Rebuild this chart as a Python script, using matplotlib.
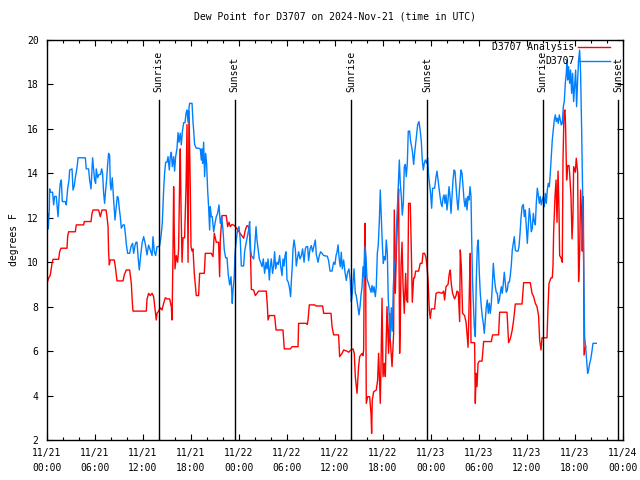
import matplotlib
matplotlib.use("Agg")
import matplotlib.pyplot as plt
import matplotlib.transforms as mtransforms

# hours since 2024-11-21 00:00 UTC, dew point (F)
analysis_pts = [
    (0.0, 9.05), (0.2, 9.28), (0.41, 9.42), (0.63, 9.95), (0.75, 10.13), (1.45, 10.13), (1.58, 10.47),
    (1.75, 10.63), (2.5, 10.63), (2.58, 11.15), (2.7, 11.37), (3.54, 11.37), (3.66, 11.68), (4.58, 11.68),
    (4.66, 11.83), (5.5, 11.83), (5.63, 12.2), (5.75, 12.35), (6.45, 12.35), (6.66, 12.05), (6.88, 12.35),
    (7.38, 12.35), (7.5, 12.05), (7.63, 11.6), (7.7, 10.47), (7.79, 9.88), (7.91, 10.1), (8.41, 10.1),
    (8.54, 9.8), (8.75, 9.16), (9.5, 9.16), (9.66, 9.43), (9.91, 9.65), (10.33, 9.65), (10.54, 9.05),
    (10.66, 8.22), (10.75, 7.8), (12.41, 7.8), (12.5, 8.33), (12.7, 8.6), (12.91, 8.5), (13.13, 8.6),
    (13.33, 8.45), (13.41, 8.2), (13.66, 7.4), (13.75, 7.7), (13.95, 7.8), (14.16, 7.95), (14.38, 7.85),
    (14.58, 8.15), (14.79, 8.4), (15.0, 8.35), (15.33, 8.35), (15.54, 8.0), (15.63, 7.4), (15.75, 10.4),
    (15.83, 13.4), (15.91, 11.3), (16.0, 9.7), (16.16, 10.3), (16.33, 10.0), (16.45, 10.6), (16.58, 13.7),
    (16.66, 15.1), (16.75, 12.5), (16.88, 10.0), (17.0, 11.1), (17.2, 11.1), (17.38, 13.4), (17.5, 16.2),
    (17.63, 10.0), (17.75, 16.8), (17.83, 15.0), (17.91, 13.4), (18.0, 10.7), (18.13, 10.5), (18.25, 10.6),
    (18.41, 9.5), (18.66, 8.5), (18.95, 8.5), (19.08, 9.5), (19.66, 9.5), (19.79, 10.4), (20.54, 10.4),
    (20.75, 10.25), (20.91, 11.3), (21.16, 10.9), (21.45, 10.9), (21.58, 9.35), (21.66, 11.0), (21.88, 12.1),
    (22.41, 12.1), (22.58, 11.6), (22.75, 11.8), (22.91, 11.6), (23.13, 11.7), (23.45, 11.65), (23.75, 11.5),
    (24.16, 11.3), (24.58, 11.08), (24.79, 11.45), (25.0, 11.65), (25.2, 11.6), (25.33, 11.15), (25.45, 10.25),
    (25.54, 8.78), (25.83, 8.75), (26.04, 8.5), (26.45, 8.7), (27.41, 8.7), (27.54, 8.08), (27.63, 7.4),
    (27.79, 7.6), (28.45, 7.6), (28.54, 7.25), (28.63, 6.95), (29.5, 6.95), (29.58, 6.5), (29.66, 6.1),
    (30.41, 6.1), (30.63, 6.2), (31.38, 6.2), (31.45, 7.25), (32.41, 7.25), (32.54, 7.2), (32.63, 7.4),
    (32.79, 8.08), (33.45, 8.08), (33.63, 8.03), (34.45, 8.03), (34.58, 7.7), (35.5, 7.7), (35.63, 7.1),
    (35.83, 6.73), (36.45, 6.73), (36.58, 5.75), (36.88, 5.9), (37.08, 6.05), (37.5, 6.0), (37.7, 5.95),
    (38.0, 6.05), (38.25, 6.1), (38.41, 5.9), (38.54, 4.85), (38.75, 4.1), (38.95, 5.3), (39.08, 5.75),
    (39.38, 5.9), (39.5, 5.8), (39.58, 6.05), (39.66, 9.8), (39.75, 11.75), (39.83, 9.8), (39.91, 3.65),
    (40.08, 3.95), (40.33, 3.95), (40.5, 3.2), (40.58, 2.3), (40.66, 3.8), (40.83, 4.17), (41.16, 4.25),
    (41.33, 4.7), (41.45, 5.9), (41.66, 3.65), (41.75, 5.3), (41.88, 8.38), (42.0, 4.85), (42.16, 5.45),
    (42.29, 4.85), (42.5, 8.0), (42.7, 5.9), (42.83, 7.7), (42.91, 6.5), (43.13, 5.3), (43.33, 6.8),
    (43.41, 12.35), (43.54, 8.6), (43.66, 10.25), (43.83, 12.2), (43.95, 13.3), (44.08, 5.9), (44.16, 7.1),
    (44.25, 9.8), (44.38, 10.9), (44.5, 9.0), (44.66, 7.7), (44.83, 9.5), (44.95, 8.3), (45.08, 8.2),
    (45.2, 12.65), (45.41, 12.65), (45.54, 10.55), (45.66, 8.2), (45.83, 9.3), (45.95, 9.3), (46.08, 9.6),
    (46.45, 9.6), (46.66, 9.95), (46.88, 9.95), (47.0, 10.4), (47.2, 10.4), (47.38, 10.2), (47.5, 9.8),
    (47.63, 9.2), (47.79, 7.85), (47.91, 7.47), (48.04, 7.9), (48.45, 7.9), (48.63, 8.6), (48.95, 8.65),
    (49.38, 8.6), (49.58, 8.7), (49.7, 8.3), (49.88, 8.9), (50.13, 9.0), (50.29, 9.5), (50.41, 9.65),
    (50.54, 9.0), (50.7, 8.6), (50.95, 8.35), (51.13, 8.5), (51.25, 8.7), (51.41, 8.65), (51.5, 8.0),
    (51.58, 7.33), (51.66, 10.55), (51.79, 9.8), (51.95, 7.7), (52.2, 7.6), (52.38, 7.3), (52.5, 6.8),
    (52.63, 6.17), (52.7, 7.1), (52.83, 9.3), (52.91, 10.4), (53.0, 6.38), (53.45, 6.38), (53.54, 3.65),
    (53.63, 5.0), (53.75, 4.4), (53.88, 5.45), (54.04, 5.55), (54.38, 5.55), (54.58, 6.43), (55.54, 6.43),
    (55.7, 6.73), (56.45, 6.73), (56.58, 7.75), (57.5, 7.75), (57.7, 6.38), (57.91, 6.55), (58.13, 6.9),
    (58.33, 7.4), (58.54, 8.12), (59.38, 8.12), (59.58, 9.08), (60.41, 9.08), (60.63, 8.6), (60.83, 8.45),
    (61.04, 8.15), (61.25, 8.0), (61.45, 7.58), (61.58, 6.5), (61.75, 6.05), (61.88, 6.6), (62.5, 6.6),
    (62.63, 8.0), (62.75, 9.05), (63.0, 9.3), (63.16, 9.3), (63.25, 9.85), (63.33, 11.37), (63.5, 12.95),
    (63.63, 13.7), (63.75, 11.8), (63.88, 14.1), (64.0, 12.35), (64.08, 10.3), (64.25, 10.2), (64.41, 10.0),
    (64.5, 14.6), (64.63, 16.78), (64.75, 16.85), (64.83, 15.98), (64.95, 13.7), (65.08, 14.35), (65.25, 14.35),
    (65.33, 14.0), (65.5, 12.95), (65.63, 11.05), (65.75, 12.1), (65.83, 14.3), (66.04, 14.05), (66.16, 14.68),
    (66.33, 14.05), (66.45, 9.13), (66.58, 10.4), (66.7, 13.25), (66.83, 12.2), (66.91, 10.5), (67.04, 12.95),
    (67.13, 5.82), (67.33, 6.2),
]

station_pts = [
    (0.0, 11.83), (0.08, 12.2), (0.16, 11.5), (0.29, 12.4), (0.33, 13.3), (0.45, 13.15), (0.7, 13.15),
    (0.83, 12.58), (0.95, 12.96), (1.16, 12.96), (1.25, 12.58), (1.38, 12.05), (1.45, 12.5), (1.58, 13.25),
    (1.66, 13.55), (1.79, 13.7), (1.91, 12.73), (2.29, 12.73), (2.41, 12.58), (2.58, 13.3), (2.75, 13.7),
    (2.83, 14.15), (3.13, 14.2), (3.25, 13.25), (3.41, 13.45), (3.54, 13.8), (3.75, 14.25), (3.88, 14.7),
    (4.79, 14.7), (4.91, 14.2), (5.2, 14.2), (5.33, 13.7), (5.5, 13.3), (5.63, 14.2), (5.7, 14.7),
    (5.83, 14.2), (5.95, 13.7), (6.08, 13.55), (6.16, 14.2), (6.33, 13.8), (6.5, 13.95), (6.7, 13.95),
    (6.83, 14.2), (6.95, 14.0), (7.08, 13.1), (7.2, 12.65), (7.33, 13.25), (7.45, 13.7), (7.58, 14.4),
    (7.7, 14.9), (7.83, 14.8), (7.91, 13.55), (8.0, 13.25), (8.16, 13.8), (8.33, 12.8), (8.5, 11.9),
    (8.63, 12.4), (8.79, 12.96), (8.91, 12.9), (9.04, 12.4), (9.16, 12.05), (9.29, 11.53), (9.5, 11.68),
    (9.66, 11.68), (9.79, 11.3), (9.91, 10.82), (10.08, 10.4), (10.33, 10.4), (10.5, 10.7), (10.7, 10.85),
    (10.83, 10.4), (11.0, 10.75), (11.13, 10.9), (11.25, 10.9), (11.41, 10.13), (11.54, 9.65), (11.66, 10.13),
    (11.88, 10.85), (12.08, 11.15), (12.29, 10.82), (12.5, 10.33), (12.7, 10.77), (12.91, 10.55), (13.13, 10.3),
    (13.25, 11.15), (13.41, 10.47), (13.58, 10.3), (13.75, 10.7), (13.95, 10.7), (14.08, 10.75), (14.25, 11.15),
    (14.41, 11.75), (14.58, 13.25), (14.7, 14.0), (14.83, 14.5), (15.0, 14.5), (15.13, 14.75), (15.29, 14.15),
    (15.41, 14.75), (15.54, 14.95), (15.66, 14.3), (15.83, 14.75), (15.95, 14.1), (16.08, 14.75), (16.25, 15.13),
    (16.38, 15.83), (16.5, 15.4), (16.66, 15.8), (16.79, 15.28), (16.91, 15.85), (17.08, 16.28), (17.25, 16.28),
    (17.38, 16.7), (17.5, 16.85), (17.63, 16.3), (17.75, 16.93), (17.83, 17.15), (18.13, 17.15), (18.25, 16.3),
    (18.33, 15.95), (18.45, 15.3), (18.66, 15.13), (18.95, 15.13), (19.16, 15.1), (19.29, 14.6), (19.38, 15.1),
    (19.45, 14.45), (19.58, 15.4), (19.7, 13.85), (19.83, 14.9), (19.95, 14.45), (20.08, 13.25), (20.2, 12.5),
    (20.33, 11.45), (20.41, 12.5), (20.54, 12.05), (20.66, 12.05), (20.83, 11.37), (21.0, 11.75), (21.16, 12.05),
    (21.33, 12.2), (21.5, 12.58), (21.66, 11.75), (21.83, 12.05), (22.0, 11.45), (22.16, 10.55), (22.33, 10.2),
    (22.5, 10.2), (22.66, 9.43), (22.83, 8.98), (23.0, 9.35), (23.16, 8.15), (23.25, 8.75), (23.41, 9.35),
    (23.5, 10.4), (23.66, 11.0), (23.83, 11.48), (24.0, 11.6), (24.16, 11.0), (24.29, 9.83), (24.58, 9.83),
    (24.7, 10.47), (24.88, 10.85), (25.04, 11.15), (25.2, 11.45), (25.33, 11.83), (25.45, 10.6), (25.54, 10.3),
    (25.83, 10.15), (25.95, 10.6), (26.13, 11.6), (26.25, 11.0), (26.38, 10.6), (26.54, 10.15), (26.7, 10.0),
    (26.88, 9.8), (27.04, 10.15), (27.2, 9.5), (27.38, 10.0), (27.5, 9.7), (27.63, 10.15), (27.79, 9.2),
    (27.91, 9.8), (28.04, 10.15), (28.2, 9.5), (28.33, 9.83), (28.45, 10.47), (28.58, 9.7), (28.75, 10.0),
    (28.91, 9.9), (29.08, 10.3), (29.2, 9.83), (29.38, 9.4), (29.5, 10.15), (29.63, 9.83), (29.75, 10.3),
    (29.88, 10.47), (30.0, 9.2), (30.13, 9.13), (30.29, 8.9), (30.45, 8.45), (30.54, 9.13), (30.66, 9.83),
    (30.75, 10.6), (30.88, 11.0), (31.04, 10.6), (31.16, 9.83), (31.29, 10.15), (31.45, 10.47), (31.63, 10.15),
    (31.79, 10.3), (31.95, 10.6), (32.13, 10.0), (32.29, 10.6), (32.41, 10.7), (32.58, 10.7), (32.7, 10.07),
    (32.88, 10.6), (33.04, 10.75), (33.2, 10.47), (33.38, 10.75), (33.54, 11.0), (33.66, 10.35), (33.88, 10.0),
    (34.04, 10.3), (34.2, 10.47), (34.38, 10.4), (34.58, 10.3), (35.04, 10.27), (35.2, 10.07), (35.38, 9.6),
    (35.63, 9.6), (35.83, 10.0), (36.0, 9.9), (36.13, 10.3), (36.25, 10.45), (36.38, 10.78), (36.54, 10.1),
    (36.66, 9.8), (36.79, 10.45), (36.91, 9.7), (37.08, 10.1), (37.25, 9.55), (37.41, 9.18), (37.58, 9.55),
    (37.75, 9.7), (37.91, 9.18), (38.04, 8.22), (38.16, 8.6), (38.25, 9.05), (38.38, 9.7), (38.54, 8.6),
    (38.66, 8.5), (38.83, 8.05), (39.0, 7.63), (39.13, 8.0), (39.25, 8.5), (39.38, 8.9), (39.5, 9.8),
    (39.63, 9.35), (39.75, 10.7), (39.88, 10.2), (40.0, 9.25), (40.13, 9.1), (40.38, 8.8), (40.5, 8.65),
    (40.63, 8.95), (40.75, 8.65), (40.88, 8.9), (41.04, 8.45), (41.16, 8.9), (41.29, 10.4), (41.41, 10.78),
    (41.54, 11.83), (41.66, 13.25), (41.79, 12.05), (41.91, 10.85), (42.04, 9.95), (42.16, 10.25), (42.29, 10.1),
    (42.41, 11.0), (42.54, 10.4), (42.66, 8.3), (42.79, 7.55), (42.91, 6.58), (43.04, 7.95), (43.16, 6.9),
    (43.29, 8.9), (43.41, 9.8), (43.54, 10.1), (43.66, 11.3), (43.79, 12.35), (43.91, 13.4), (44.04, 14.6),
    (44.16, 13.55), (44.29, 12.96), (44.41, 12.12), (44.54, 12.65), (44.66, 14.3), (44.79, 14.4), (44.91, 13.85),
    (45.04, 14.45), (45.16, 15.9), (45.33, 15.9), (45.45, 15.43), (45.58, 15.2), (45.7, 14.9), (45.83, 14.4),
    (45.95, 14.9), (46.08, 15.35), (46.2, 15.8), (46.33, 16.18), (46.5, 16.33), (46.66, 15.9), (46.79, 15.43),
    (46.91, 14.6), (47.04, 14.15), (47.16, 14.45), (47.29, 14.6), (47.45, 14.45), (47.58, 14.7), (47.7, 13.9),
    (47.83, 13.48), (47.95, 13.1), (48.08, 12.43), (48.2, 13.33), (48.45, 13.33), (48.63, 13.85), (48.75, 14.1),
    (48.88, 13.7), (49.0, 13.33), (49.13, 12.96), (49.25, 12.65), (49.38, 12.5), (49.5, 12.88), (49.63, 13.03),
    (49.75, 12.65), (49.88, 13.03), (50.0, 12.35), (50.13, 12.8), (50.25, 13.4), (50.38, 12.96), (50.5, 12.2),
    (50.63, 12.96), (50.75, 13.7), (50.88, 14.15), (51.0, 14.1), (51.13, 13.4), (51.25, 12.8), (51.38, 12.35),
    (51.5, 12.96), (51.63, 13.63), (51.75, 14.15), (51.88, 14.0), (52.0, 13.4), (52.13, 12.8), (52.25, 12.5),
    (52.38, 12.88), (52.5, 12.35), (52.63, 12.96), (52.75, 12.8), (52.88, 13.4), (53.0, 12.96), (53.08, 11.15),
    (53.2, 9.05), (53.33, 7.85), (53.41, 7.1), (53.54, 6.65), (53.66, 9.2), (53.79, 10.7), (53.91, 11.0),
    (54.04, 9.5), (54.16, 8.6), (54.29, 8.0), (54.41, 7.55), (54.54, 7.25), (54.66, 6.8), (54.79, 7.4),
    (54.91, 8.0), (55.04, 8.3), (55.16, 7.7), (55.29, 8.15), (55.41, 7.7), (55.54, 8.15), (55.66, 8.9),
    (55.79, 9.95), (55.91, 9.35), (56.04, 8.9), (56.16, 8.65), (56.29, 8.6), (56.41, 8.15), (56.54, 8.3),
    (56.66, 8.6), (56.79, 8.9), (56.91, 8.6), (57.04, 9.05), (57.16, 9.55), (57.29, 9.05), (57.41, 8.65),
    (57.54, 8.75), (57.66, 9.1), (57.79, 9.1), (57.91, 9.4), (58.04, 9.87), (58.16, 10.55), (58.29, 10.85),
    (58.41, 11.15), (58.54, 10.55), (58.66, 10.5), (58.88, 10.5), (59.0, 10.7), (59.13, 11.3), (59.25, 11.98),
    (59.38, 12.5), (59.54, 12.6), (59.66, 12.05), (59.79, 12.35), (59.91, 11.6), (60.04, 10.85), (60.16, 11.6),
    (60.29, 12.42), (60.41, 12.05), (60.54, 11.37), (60.66, 11.53), (60.79, 12.2), (60.91, 11.83), (61.04, 11.68),
    (61.16, 12.65), (61.29, 13.33), (61.41, 13.03), (61.54, 12.65), (61.66, 12.96), (61.79, 12.58), (61.91, 12.8),
    (62.04, 12.96), (62.16, 12.5), (62.29, 13.1), (62.41, 12.65), (62.54, 13.25), (62.66, 13.55), (62.79, 13.4),
    (62.91, 14.0), (63.04, 14.75), (63.16, 15.5), (63.29, 15.95), (63.41, 16.4), (63.54, 16.63), (63.66, 16.33),
    (63.79, 16.48), (63.91, 16.25), (64.04, 16.63), (64.16, 16.4), (64.29, 16.18), (64.41, 16.25), (64.54, 17.0),
    (64.66, 17.23), (64.79, 18.05), (64.91, 18.5), (65.0, 19.1), (65.08, 18.2), (65.2, 18.8), (65.33, 18.05),
    (65.45, 18.65), (65.58, 17.6), (65.7, 18.5), (65.83, 17.23), (65.95, 17.9), (66.08, 18.65), (66.2, 17.0),
    (66.33, 18.2), (66.45, 19.1), (66.58, 19.55), (66.7, 18.5), (66.83, 15.95), (66.95, 13.25), (67.08, 10.25),
    (67.2, 6.65), (67.33, 6.2), (67.45, 5.6), (67.58, 5.0), (67.7, 5.15), (67.83, 5.45), (67.95, 5.6),
    (68.08, 5.9), (68.25, 6.35), (68.66, 6.35),
]

sunrise_hours = [13.95, 38.0, 61.95]
sunset_hours = [23.45, 47.5, 71.4]

tick_hours = list(range(0, 73, 6))
tick_labels = ["11/21\n00:00", "11/21\n06:00", "11/21\n12:00", "11/21\n18:00",
               "11/22\n00:00", "11/22\n06:00", "11/22\n12:00", "11/22\n18:00",
               "11/23\n00:00", "11/23\n06:00", "11/23\n12:00", "11/23\n18:00",
               "11/24\n00:00"]

analysis_hours, analysis_dewpt = zip(*analysis_pts)
station_hours, station_dewpt = zip(*station_pts)

plt.rcParams['font.family'] = 'DejaVu Sans Mono'
plt.rcParams['font.size'] = 7

fig = plt.figure(figsize=(6.4, 4.8), dpi=100)
ax = fig.add_axes([47 / 640, 40 / 480, 576 / 640, 400 / 480])

ax.plot(analysis_hours, analysis_dewpt, color='#ff0000', lw=1.0, label='D3707 Analysis')
ax.plot(station_hours, station_dewpt, color='#0080ff', lw=1.0, label='D3707')

trans = mtransforms.blended_transform_factory(ax.transData, ax.transAxes)
for h in sunrise_hours:
    ax.axvline(h, ymin=0, ymax=0.85, color='black', lw=1.0)
    ax.text(h, 0.87, 'Sunrise', transform=trans, rotation=90, ha='center', va='bottom')
for h in sunset_hours:
    ax.axvline(h, ymin=0, ymax=0.85, color='black', lw=1.0)
    ax.text(h, 0.87, 'Sunset', transform=trans, rotation=90, ha='center', va='bottom')

ax.set_xlim(0, 72)
ax.set_ylim(2, 20)
ax.set_xticks(tick_hours)
ax.set_xticklabels(tick_labels, linespacing=1.6)
ax.set_xticks(range(0, 73, 2), minor=True)
ax.set_yticks(range(2, 21, 2))
ax.tick_params(which='both', direction='in', top=True, right=True, pad=6)
ax.tick_params(which='major', length=4, width=0.8)
ax.tick_params(which='minor', length=2, width=0.8)
for s in ax.spines.values():
    s.set_linewidth(1.0)

ax.set_ylabel('degrees F', labelpad=6)
ax.set_title('Dew Point for D3707 on 2024-Nov-21 (time in UTC)', fontsize=7, pad=15)

ax.legend(loc='upper right', bbox_to_anchor=(0.98, 1.0), frameon=False, markerfirst=False,
          handlelength=3.2, handletextpad=0.4, borderaxespad=0.2, borderpad=0, labelspacing=0.45)

fig.savefig('out.png', dpi=100)
